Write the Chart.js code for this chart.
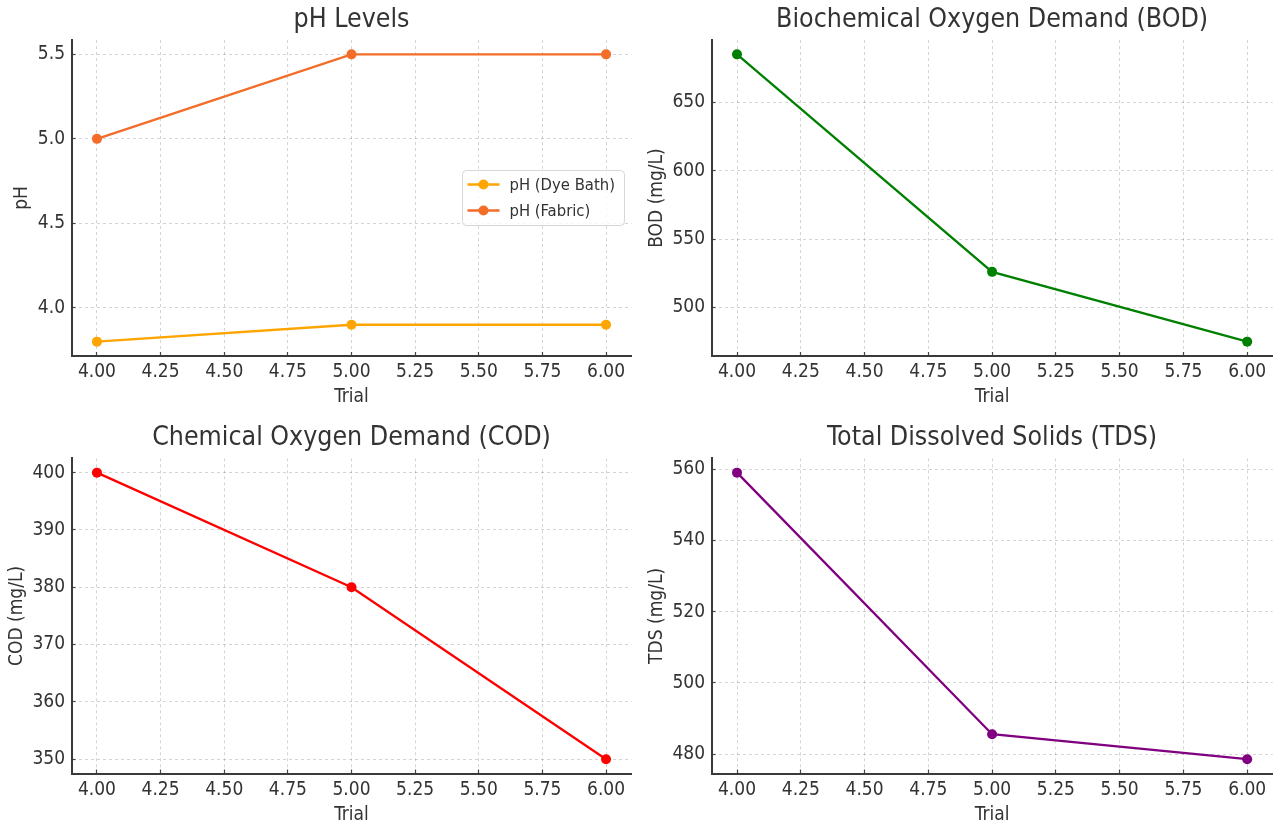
<!DOCTYPE html>
<html lang="en">
<head>
<meta charset="UTF-8" />
<title>Dyeing Trials - Effluent and pH</title>
<script src="https://cdn.jsdelivr.net/npm/chart.js"></script>
<style>
  body { margin: 0; background: #fff; }
  #wrap { position: relative; width: 1278px; height: 827px; }
  canvas { position: absolute; }
</style>
</head>
<body>
<div id="wrap">
  <canvas id="phChart" width="640" height="415" style="left:0;top:0"></canvas>
  <canvas id="bodChart" width="638" height="415" style="left:640px;top:0"></canvas>
  <canvas id="codChart" width="640" height="412" style="left:0;top:415px"></canvas>
  <canvas id="tdsChart" width="638" height="412" style="left:640px;top:415px"></canvas>
</div>

<script>
const trials = [4, 5, 6];
const phDyeBath = [3.8, 3.9, 3.9];
const phFabric = [5.0, 5.5, 5.5];
const bod = [685, 526, 475];
const cod = [400, 380, 350];
const tds = [559, 485.6, 478.6];

const xTicks = [4, 4.25, 4.5, 4.75, 5, 5.25, 5.5, 5.75, 6];
const phTicks = [4.0, 4.5, 5.0, 5.5];
const bodTicks = [500, 550, 600, 650];
const codTicks = [350, 360, 370, 380, 390, 400];
const tdsTicks = [480, 500, 520, 540, 560];

// the reference text is narrow, use the condensed face when it is installed
function hasFont(name) {
  const c = document.createElement('canvas').getContext('2d');
  c.font = '40px monospace';
  const base = c.measureText('abcdefghijklmWMi 0123').width;
  c.font = `40px '${name}', monospace`;
  return c.measureText('abcdefghijklmWMi 0123').width !== base;
}
const condensed = hasFont('DejaVu Sans Condensed');
const FONT = condensed ? "'DejaVu Sans Condensed', 'DejaVu Sans', sans-serif" : "'DejaVu Sans', sans-serif";
const SZ = condensed
  ? { title: 26.5, tick: 19, label: 19, legend: 16.5 }
  : { title: 24, tick: 17, label: 17, legend: 15 };
Chart.defaults.font.family = FONT;
Chart.defaults.color = '#333';

// matplotlib style 5% margins
function padRange(...arrs) {
  const all = arrs.flat();
  const lo = Math.min(...all), hi = Math.max(...all);
  const m = (hi - lo) * 0.05;
  return [lo - m, hi + m];
}

// legend drawn inside plot, centre right
const boxLegend = {
  id: 'boxLegend',
  afterDatasetsDraw(chart, args, opts) {
    if (!opts.show) return;
    const { ctx, chartArea } = chart;
    const w = 162, h = 55;
    const x = chartArea.right - 7 - w;
    const y = (chartArea.top + chartArea.bottom) / 2 - h / 2;
    ctx.save();
    ctx.beginPath();
    ctx.roundRect(x, y, w, h, 4);
    ctx.fillStyle = 'rgba(255,255,255,0.8)';
    ctx.fill();
    ctx.strokeStyle = '#d6d6d6';
    ctx.lineWidth = 1;
    ctx.stroke();
    ctx.font = SZ.legend + 'px ' + FONT;
    ctx.textBaseline = 'middle';
    chart.data.datasets.forEach((ds, i) => {
      const ry = y + 14 + i * 26;
      ctx.strokeStyle = ds.borderColor;
      ctx.lineWidth = 2.3;
      ctx.beginPath(); ctx.moveTo(x + 5, ry); ctx.lineTo(x + 37, ry); ctx.stroke();
      ctx.fillStyle = ds.borderColor;
      ctx.beginPath(); ctx.arc(x + 21, ry, 5, 0, Math.PI * 2); ctx.fill();
      ctx.fillStyle = '#333';
      ctx.fillText(ds.label, x + 47, ry + 1);
    });
    ctx.restore();
  }
};

const gridOpts = { color: 'rgba(0,0,0,0.17)', lineWidth: 1, tickLength: -4, tickColor: '#444', tickWidth: 1.2 };
const borderOpts = { display: true, color: '#3a3a3a', width: 2, dash: [3, 3] };

function makeChart(id, cfg) {
  const [ymin, ymax] = padRange(...cfg.series.map(s => s.values));
  const titleLH = SZ.title * 1.2;
  const labelHalf = SZ.label * 0.6;
  new Chart(document.getElementById(id), {
    type: 'line',
    data: {
      datasets: cfg.series.map(s => ({
        label: s.label,
        data: trials.map((t, i) => ({ x: t, y: s.values[i] })),
        borderColor: s.color,
        backgroundColor: s.color,
        pointBackgroundColor: s.color,
        borderWidth: 2.3,
        pointRadius: 5,
        pointBorderWidth: 0,
        tension: 0
      }))
    },
    options: {
      responsive: false,
      animation: false,
      events: [],
      layout: { padding: { left: 0, top: 0, right: cfg.padRight, bottom: 0 } },
      plugins: {
        legend: { display: false },
        tooltip: { enabled: false },
        title: {
          display: true, text: cfg.title, color: '#333', fullSize: false,
          font: { family: FONT, size: SZ.title, weight: 'normal' },
          padding: { top: cfg.titleMid - titleLH / 2, bottom: cfg.plotTop - cfg.titleMid - titleLH / 2 }
        },
        boxLegend: { show: !!cfg.legend }
      },
      scales: {
        x: {
          type: 'linear', min: 3.9, max: 6.1,
          afterBuildTicks: s => { s.ticks = xTicks.map(v => ({ value: v })); },
          afterFit: s => { s.height = cfg.xHeight; s.paddingLeft = 0; s.paddingRight = 0; },
          ticks: { autoSkip: false, maxRotation: 0, padding: 9, color: '#333', font: { size: SZ.tick }, callback: v => v.toFixed(2) },
          grid: gridOpts,
          border: borderOpts,
          title: { display: true, text: 'Trial', color: '#333', font: { size: SZ.label }, padding: { top: 0, bottom: cfg.xTitleOff - labelHalf } }
        },
        y: {
          type: 'linear', min: ymin, max: ymax,
          afterBuildTicks: s => { s.ticks = cfg.yTicks.map(v => ({ value: v })); },
          afterFit: s => { s.width = cfg.yWidth; s.paddingTop = 0; s.paddingBottom = 0; },
          ticks: { padding: 10.5, color: '#333', font: { size: SZ.tick }, callback: v => v.toFixed(cfg.yDec) },
          grid: gridOpts,
          border: borderOpts,
          title: { display: true, text: cfg.yLabel, color: '#333', font: { size: SZ.label }, padding: { top: cfg.yTitleMid - labelHalf, bottom: 0 } }
        }
      }
    },
    plugins: [boxLegend]
  });
}

makeChart('phChart', {
  title: 'pH Levels', yLabel: 'pH', yTicks: phTicks, yDec: 1, legend: true,
  series: [
    { label: 'pH (Dye Bath)', values: phDyeBath, color: '#FFA500' },
    { label: 'pH (Fabric)', values: phFabric, color: '#F36C28' }
  ],
  titleMid: 20.5, plotTop: 40, yWidth: 71.5, padRight: 8.5, xHeight: 59, xTitleOff: 18, yTitleMid: 22
});

makeChart('bodChart', {
  title: 'Biochemical Oxygen Demand (BOD)', yLabel: 'BOD (mg/L)', yTicks: bodTicks, yDec: 0,
  series: [{ label: 'BOD', values: bod, color: '#008000' }],
  titleMid: 20.5, plotTop: 40, yWidth: 71.5, padRight: 5.3, xHeight: 59, xTitleOff: 18, yTitleMid: 17
});

makeChart('codChart', {
  title: 'Chemical Oxygen Demand (COD)', yLabel: 'COD (mg/L)', yTicks: codTicks, yDec: 0,
  series: [{ label: 'COD', values: cod, color: '#FF0000' }],
  titleMid: 23, plotTop: 43.3, yWidth: 71.5, padRight: 8.5, xHeight: 53.5, xTitleOff: 12, yTitleMid: 17
});

makeChart('tdsChart', {
  title: 'Total Dissolved Solids (TDS)', yLabel: 'TDS (mg/L)', yTicks: tdsTicks, yDec: 0,
  series: [{ label: 'TDS', values: tds, color: '#800080' }],
  titleMid: 23, plotTop: 43.3, yWidth: 71.5, padRight: 5.3, xHeight: 53.5, xTitleOff: 12, yTitleMid: 17
});
</script>
</body>
</html>
